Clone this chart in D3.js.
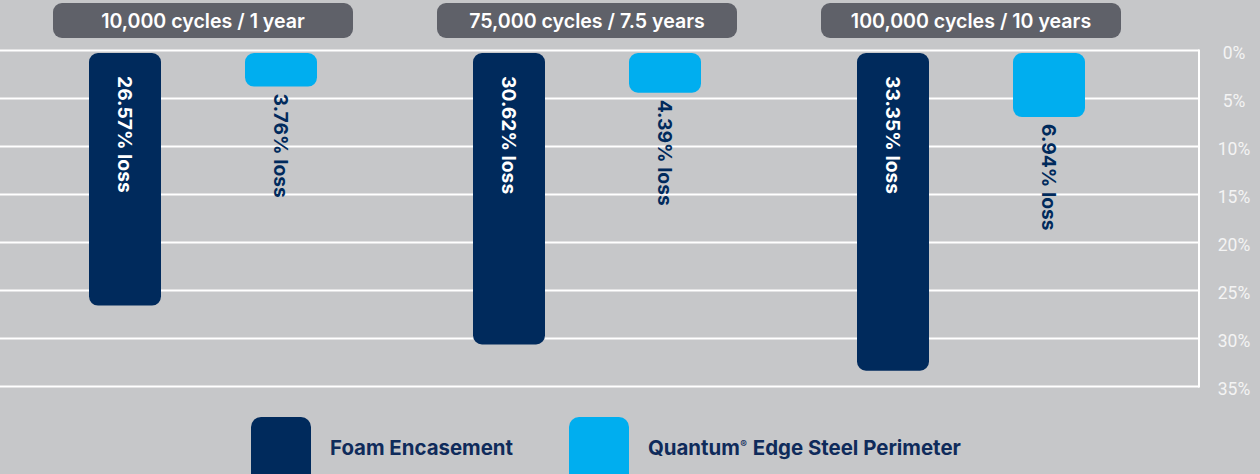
<!DOCTYPE html>
<html>
<head>
<meta charset="utf-8">
<script src="https://cdn.jsdelivr.net/npm/d3@7"></script>
<style>
  html, body { margin: 0; padding: 0; background: #c6c7c9; }
  svg { display: block; }
</style>
</head>
<body>
<svg id="chart" width="1260" height="474"></svg>
<script>
// ---- data ----
const groups = ["10,000 cycles / 1 year", "75,000 cycles / 7.5 years", "100,000 cycles / 10 years"];
const seriesNames = ["Foam Encasement", "Quantum® Edge Steel Perimeter"];
const foamLoss = [26.57, 30.62, 33.35];
const steelLoss = [3.76, 4.39, 6.94];
const yTicks = [0, 5, 10, 15, 20, 25, 30, 35];
const yTickLabels = ["0%", "5%", "10%", "15%", "20%", "25%", "30%", "35%"];

const colors = { foam: "#002a5c", steel: "#00aeef" };
const W = 1260, H = 474;
const svg = d3.select("#chart");

svg.append("rect").attr("width", W).attr("height", H).attr("fill", "#c6c7c9");

const y = d3.scaleLinear().domain([0, 35]).range([50.5, 386.5]);
const x0 = d3.scaleBand().domain(groups).range([11, 1163]).paddingInner(0);
const x1 = d3.scaleBand().domain(["foam", "steel"]).range([36, 348]);
const barW = 72;

// gridlines
const gridRight = 1199;
svg.append("g").selectAll("line").data(yTicks).join("line")
  .attr("x1", 0).attr("x2", gridRight)
  .attr("y1", d => y(d)).attr("y2", d => y(d))
  .attr("stroke", "#ffffff").attr("stroke-width", 2);
svg.append("line")
  .attr("x1", gridRight).attr("x2", gridRight)
  .attr("y1", y(0) - 1).attr("y2", y(35) + 1)
  .attr("stroke", "#ffffff").attr("stroke-width", 2);

// right axis labels
const axis = d3.axisRight(y).tickValues(yTicks).tickFormat((d, i) => yTickLabels[i]).tickSize(0).tickPadding(0);
const ag = svg.append("g").attr("transform", `translate(1234,2.5)`).call(axis);
ag.select(".domain").remove();
ag.selectAll("text")
  .attr("text-anchor", "middle")
  .attr("fill", "#f4f4f4")
  .style("font-family", "Roboto, 'Noto Sans', sans-serif")
  .style("font-size", "17.5px");

// group pills
const pills = svg.append("g").selectAll("g").data(groups).join("g")
  .attr("transform", d => `translate(${x0(d) + x0.bandwidth() / 2},0)`);
pills.append("rect")
  .attr("x", -150).attr("y", 3).attr("width", 300).attr("height", 35)
  .attr("rx", 9).attr("fill", "#5f6169");
pills.append("text")
  .attr("x", 0).attr("y", 21).attr("dy", "0.36em")
  .attr("text-anchor", "middle").attr("fill", "#ffffff")
  .style("font-family", "Inter, Roboto, sans-serif")
  .style("font-weight", 600).style("font-size", "19.6px")
  .text(d => d);

// bars
const rows = groups.map((g, i) => ({ g, foam: foamLoss[i], steel: steelLoss[i] }));
const top0 = y(0) + 2.5;
const gBars = svg.append("g").selectAll("g").data(rows).join("g")
  .attr("transform", d => `translate(${x0(d.g)},0)`);

["foam", "steel"].forEach(key => {
  gBars.append("rect")
    .attr("x", x1(key) + x1.bandwidth() / 2 - barW / 2)
    .attr("y", top0)
    .attr("width", barW)
    .attr("height", d => y(d[key]) - top0)
    .attr("rx", 9)
    .attr("fill", colors[key]);
});

const labelFont = (sel) => sel
  .style("font-family", "Inter, Roboto, sans-serif")
  .style("font-weight", 700).style("font-size", "19.3px");

gBars.append("text")
  .attr("transform", d => `translate(${x1("foam") + x1.bandwidth() / 2},${top0 + 23}) rotate(90)`)
  .attr("dy", "0.36em").attr("text-anchor", "start")
  .attr("fill", "#ffffff")
  .call(labelFont)
  .text(d => `${d.foam.toFixed(2)}% loss`);

gBars.append("text")
  .attr("transform", d => `translate(${x1("steel") + x1.bandwidth() / 2},${y(d.steel) + 7}) rotate(90)`)
  .attr("dy", "0.36em").attr("text-anchor", "start")
  .attr("fill", colors.foam)
  .call(labelFont)
  .text(d => `${d.steel.toFixed(2)}% loss`);

// legend
const legend = svg.append("g");
const legendItems = [
  { name: seriesNames[0], color: colors.foam, x: 251 },
  { name: seriesNames[1], color: colors.steel, x: 569 }
];
const li = legend.selectAll("g").data(legendItems).join("g")
  .attr("transform", d => `translate(${d.x},0)`);
li.append("rect").attr("x", 0).attr("y", 417).attr("width", 60).attr("height", 70)
  .attr("rx", 10).attr("fill", d => d.color);
const lt = li.append("text").attr("x", 79).attr("y", 455)
  .attr("fill", "#0f2b5b")
  .style("font-family", "Inter, Roboto, sans-serif")
  .style("font-weight", 700).style("font-size", "20.4px");
lt.each(function (d) {
  const t = d3.select(this);
  if (d.name.includes("®")) {
    const parts = d.name.split("®");
    t.append("tspan").text(parts[0]);
    t.append("tspan").attr("dy", -7).attr("dx", 0.5).style("font-size", "10px").text("®");
    t.append("tspan").attr("dy", 7).attr("dx", 1).text(parts[1]);
  } else {
    t.text(d.name);
  }
});
</script>
</body>
</html>
